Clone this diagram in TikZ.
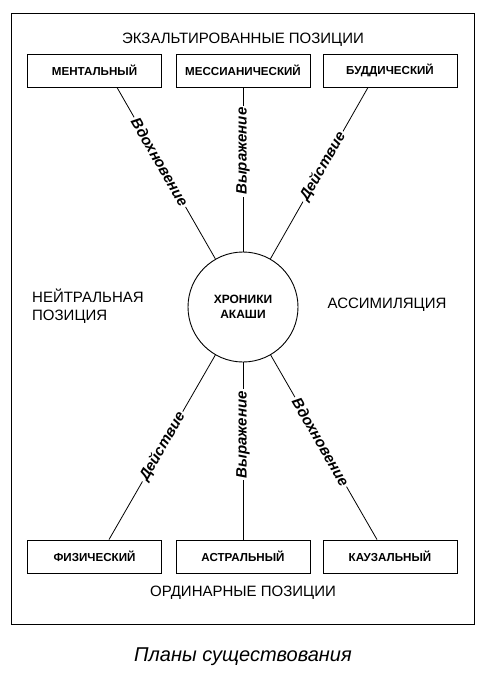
\documentclass[tikz,border=0pt]{standalone}
\usepackage{fontspec}
\setmainfont{Liberation Sans}
\begin{document}
\begin{tikzpicture}[x=1pt,y=-1pt,
  plane/.style={draw, line width=0.9pt, minimum width=134pt, minimum height=33pt, inner sep=0pt, font=\bfseries\fontsize{11.6}{13}\selectfont},
  heading/.style={font=\fontsize{15}{18}\selectfont, inner sep=0pt},
  link/.style={line width=0.8pt},
  linklabel/.style={fill=white, inner sep=2pt, font=\bfseries\itshape\fontsize{15}{17}\selectfont},
  hub/.style={draw, circle, line width=0.9pt, minimum size=110pt, inner sep=0pt, align=center, font=\bfseries\fontsize{12}{15}\selectfont}
]
\useasboundingbox (0,0) rectangle (485,675);
\draw[line width=0.9pt] (11,13) rectangle (474,624);

\node[heading] (top) at (243,40) {ЭКЗАЛЬТИРОВАННЫЕ ПОЗИЦИИ};
\node[heading] (bot) at (243,593) {ОРДИНАРНЫЕ ПОЗИЦИИ};
\node[heading, align=left, anchor=west] (neutral) at (32,306) {НЕЙТРАЛЬНАЯ\\ПОЗИЦИЯ};
\node[heading] (assim) at (387,305) {АССИМИЛЯЦИЯ};

\node[plane] (ment) at (94.5,70.5) {МЕНТАЛЬНЫЙ};
\node[plane] (mess) at (243,70.5) {МЕССИАНИЧЕСКИЙ};
\node[plane] (budd) at (390,70.5) {БУДДИЧЕСКИЙ};
\node[plane] (phys) at (94.5,556.5) {ФИЗИЧЕСКИЙ};
\node[plane] (astr) at (243,556.5) {АСТРАЛЬНЫЙ};
\node[plane] (caus) at (390,556.5) {КАУЗАЛЬНЫЙ};

\node[hub] (c) at (243,307) {ХРОНИКИ\\АКАШИ};

\coordinate (mentS) at ([xshift=22.5pt]ment.south);
\coordinate (buddS) at ([xshift=-22pt]budd.south);
\coordinate (physN) at ([xshift=14.5pt]phys.north);
\coordinate (causN) at ([xshift=-13pt]caus.north);

\draw[link] (mentS) -- (c);
\draw[link] (mess.south) -- (c);
\draw[link] (buddS) -- (c);
\draw[link] (physN) -- (c);
\draw[link] (astr.north) -- (c);
\draw[link] (causN) -- (c);

\path (mentS) -- (c.center) node[linklabel, pos=0.34, rotate=-60] (l1) {Вдохновение};
\path (mess.south) -- (c.center) node[linklabel, pos=0.29, rotate=90] (l2) {Выражение};
\path (buddS) -- (c.center) node[linklabel, pos=0.36, rotate=60] (l3) {Действие};
\path (physN) -- (c.center) node[linklabel, pos=0.40, rotate=60] (l4) {Действие};
\path (astr.north) -- (c.center) node[linklabel, pos=0.45, rotate=90] (l5) {Выражение};
\path (causN) -- (c.center) node[linklabel, pos=0.42, rotate=-60] (l6) {Вдохновение};

\node[font=\itshape\fontsize{20}{24}\selectfont] (cap) at (243,657) {Планы существования};
\end{tikzpicture}
\end{document}
